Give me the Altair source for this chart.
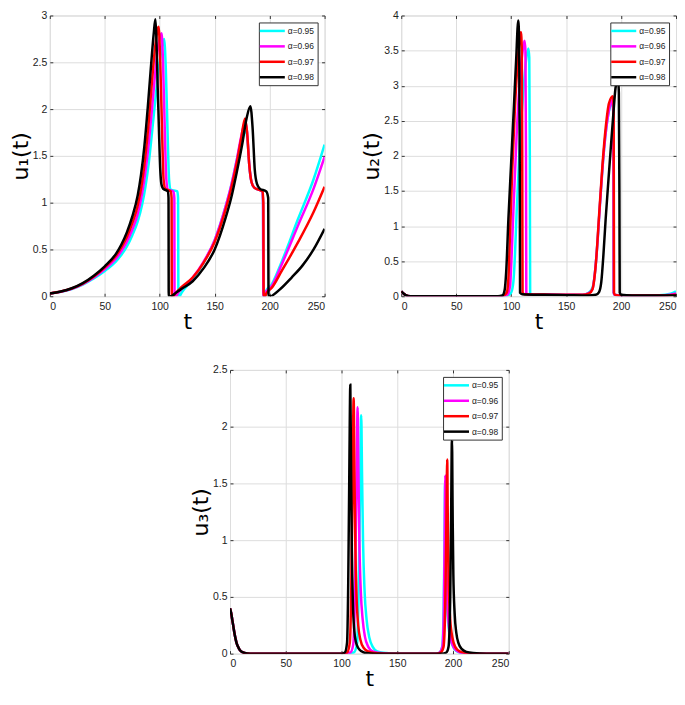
import altair as alt
import pandas as pd

SERIES = ["α=0.95", "α=0.96", "α=0.97", "α=0.98"]
COLORS = ["#00FFFF", "#FF00FF", "#FF0000", "#000000"]
X_TICKS = [0, 50, 100, 150, 200, 250]

# ---------- u1(t) ----------
U1_T_C = [0, 10, 20, 30, 40, 50, 60, 65, 70, 75, 80, 84, 87, 90, 93, 96, 99, 102, 104, 105.5, 107.5, 108.5, 110, 116, 116.7, 117, 118, 120, 130, 140, 150, 160, 165, 170, 174, 178.5, 180, 181.5, 183.5, 186, 193.3, 194, 194.3, 195.5, 196.5, 202, 211, 226, 240, 250]
U1_V_C = [0.03, 0.047, 0.077, 0.125, 0.19, 0.27, 0.37, 0.44, 0.53, 0.65, 0.8, 0.98, 1.17, 1.42, 1.75, 2.1, 2.42, 2.66, 2.75, 2.45, 1.6, 1.25, 1.14, 1.12, 1.05, 0.0, 0.0, 0.04, 0.18, 0.36, 0.6, 0.96, 1.18, 1.45, 1.66, 1.76, 1.65, 1.4, 1.22, 1.16, 1.12, 1.0, 0.0, 0.0, 0.05, 0.13, 0.37, 0.83, 1.25, 1.62]
U1_T_M = [0, 10, 20, 30, 40, 50, 60, 65, 70, 75, 80, 84, 87, 90, 93, 96, 99, 101.7, 103, 105, 106, 107.5, 112.5, 113.3, 113.5, 114.5, 117, 120, 130, 140, 150, 160, 165, 170, 174, 178, 179.5, 181.5, 183.5, 186, 193.3, 194, 194.3, 195.5, 196.5, 202, 211, 226, 240, 250]
U1_V_M = [0.03, 0.048, 0.08, 0.13, 0.2, 0.29, 0.4, 0.48, 0.58, 0.71, 0.88, 1.1, 1.33, 1.63, 2.0, 2.4, 2.7, 2.81, 2.5, 1.6, 1.25, 1.14, 1.12, 1.05, 0.0, 0.0, 0.04, 0.08, 0.2, 0.37, 0.6, 0.96, 1.18, 1.45, 1.7, 1.86, 1.75, 1.4, 1.22, 1.16, 1.12, 1.0, 0.0, 0.0, 0.04, 0.11, 0.34, 0.76, 1.15, 1.49]
U1_T_R = [0, 10, 20, 30, 40, 50, 60, 65, 70, 75, 80, 84, 87, 90, 93, 96, 99, 100.5, 102.5, 103.5, 105, 110, 110.8, 111, 112, 115, 120, 130, 140, 150, 160, 165, 170, 174, 177.7, 179.5, 181.5, 183.5, 186, 193.5, 194.3, 194.6, 196, 197, 202, 211, 226, 240, 250]
U1_V_R = [0.03, 0.05, 0.083, 0.135, 0.21, 0.31, 0.43, 0.52, 0.63, 0.78, 0.97, 1.22, 1.5, 1.86, 2.3, 2.68, 2.88, 2.5, 1.6, 1.25, 1.15, 1.12, 1.05, 0.0, 0.0, 0.04, 0.1, 0.2, 0.36, 0.58, 0.93, 1.15, 1.42, 1.68, 1.9, 1.75, 1.4, 1.22, 1.16, 1.12, 1.0, 0.0, 0.0, 0.03, 0.09, 0.27, 0.58, 0.9, 1.17]
U1_T_K = [0, 10, 20, 30, 40, 50, 60, 65, 70, 75, 80, 83, 86, 89, 92, 94.5, 96, 98.5, 100.5, 101.5, 103, 107.5, 108.0, 108.2, 110, 115, 120, 130, 140, 150, 160, 165, 170, 175, 179, 182.5, 184.5, 186.5, 188.5, 191, 197, 198.7, 199, 201, 205, 210, 220, 230, 240, 250]
U1_V_K = [0.03, 0.05, 0.085, 0.14, 0.22, 0.32, 0.45, 0.55, 0.68, 0.85, 1.08, 1.3, 1.6, 2.0, 2.45, 2.8, 2.96, 2.1, 1.35, 1.2, 1.15, 1.12, 1.05, 0.0, 0.0, 0.04, 0.08, 0.16, 0.3, 0.5, 0.84, 1.05, 1.32, 1.62, 1.9, 2.03, 1.8, 1.35, 1.2, 1.15, 1.12, 1.05, 0.0, 0.0, 0.03, 0.08, 0.2, 0.33, 0.5, 0.72]

# ---------- u2(t) ----------
U2_T_C = [0, 2, 4, 6, 10, 90, 95, 98, 100, 102, 103.5, 105, 108, 111, 113.5, 115.7, 116.5, 117, 117.3, 118, 130, 150, 165, 170, 174, 176, 178, 181, 184, 187, 190, 192, 193, 193.3, 194, 200, 220, 235, 245, 250]
U2_V_C = [0.07, 0.04, 0.015, 0.005, 0.0, 0.0, 0.005, 0.02, 0.05, 0.2, 0.6, 1.2, 2.2, 2.9, 3.35, 3.53, 3.4, 2.0, 0.05, 0.03, 0.025, 0.02, 0.02, 0.045, 0.12, 0.3, 0.65, 1.35, 2.0, 2.45, 2.7, 2.76, 2.6, 0.05, 0.02, 0.01, 0.01, 0.015, 0.035, 0.07]
U2_T_M = [0, 2, 4, 6, 10, 90, 94, 97, 99, 100.5, 102, 105, 108, 110.5, 112.2, 113, 113.5, 113.8, 115, 130, 150, 165, 170, 174, 176, 178, 181, 184, 187, 190, 192, 193, 193.3, 194, 200, 220, 240, 250]
U2_V_M = [0.07, 0.04, 0.015, 0.005, 0.0, 0.0, 0.005, 0.03, 0.15, 0.6, 1.2, 2.3, 3.1, 3.5, 3.64, 3.5, 2.0, 0.05, 0.03, 0.025, 0.02, 0.02, 0.04, 0.1, 0.3, 0.65, 1.35, 2.0, 2.45, 2.72, 2.8, 2.6, 0.05, 0.02, 0.01, 0.01, 0.015, 0.04]
U2_T_R = [0, 2, 4, 6, 10, 90, 93, 96, 97.5, 99, 101, 103.5, 106, 108, 108.9, 109.7, 110.1, 110.4, 112, 130, 150, 165, 171, 174, 177, 180, 183, 186, 189, 192.6, 193.3, 193.6, 194.5, 200, 220, 240, 250]
U2_V_R = [0.07, 0.04, 0.015, 0.005, 0.0, 0.0, 0.01, 0.05, 0.25, 0.9, 1.8, 2.7, 3.35, 3.7, 3.76, 3.5, 2.0, 0.05, 0.03, 0.025, 0.02, 0.02, 0.04, 0.1, 0.45, 1.15, 1.85, 2.4, 2.75, 2.85, 2.7, 0.05, 0.02, 0.01, 0.01, 0.012, 0.02]
U2_T_K = [0, 2, 4, 6, 10, 88, 92, 94, 95.5, 97.5, 100, 102.5, 104.5, 106.5, 107.3, 107.8, 108.1, 110, 130, 150, 170, 177, 180, 182, 184, 186, 188.5, 190.5, 193, 195, 197.3, 198, 198.5, 198.8, 200, 210, 250]
U2_V_K = [0.07, 0.04, 0.015, 0.005, 0.0, 0.0, 0.01, 0.08, 0.35, 1.1, 1.9, 2.7, 3.35, 3.93, 3.6, 2.0, 0.05, 0.03, 0.02, 0.015, 0.01, 0.02, 0.06, 0.2, 0.6, 1.1, 1.65, 2.08, 2.6, 2.97, 3.1, 2.9, 1.5, 0.05, 0.02, 0.01, 0.01]

# ---------- u3(t) ----------
U3_T_C = [0, 1, 2, 3, 4, 5, 6, 8, 10, 13, 18, 100, 111, 113.8, 115.3, 116.6, 117.7, 118.4, 119.3, 120.7, 122.5, 125, 128, 132, 140, 150, 185, 188, 190.3, 191.6, 192.3, 192.9, 193.5, 194.4, 195.8, 198, 201, 205, 212, 250]
U3_V_C = [0.4, 0.36, 0.3, 0.24, 0.18, 0.13, 0.09, 0.045, 0.02, 0.007, 0.0, 0.0, 0.01, 0.08, 0.5, 1.4, 2.1, 1.6, 1.0, 0.55, 0.3, 0.14, 0.06, 0.02, 0.005, 0.0, 0.0, 0.01, 0.06, 0.4, 0.9, 1.5, 0.95, 0.52, 0.26, 0.12, 0.045, 0.014, 0.0, 0.0]
U3_T_M = [0, 1, 2, 3, 4, 5, 6, 8, 10, 13, 18, 100, 108, 110.5, 112, 113.3, 114.5, 115.2, 116, 117.3, 119, 121, 124, 128, 135, 145, 185, 188, 190.5, 191.8, 192.5, 193.1, 193.7, 194.6, 196, 198, 201, 205, 212, 250]
U3_V_M = [0.4, 0.36, 0.3, 0.24, 0.18, 0.13, 0.09, 0.045, 0.02, 0.007, 0.0, 0.0, 0.01, 0.08, 0.5, 1.4, 2.17, 1.6, 1.0, 0.55, 0.3, 0.15, 0.06, 0.02, 0.005, 0.0, 0.0, 0.01, 0.06, 0.4, 1.0, 1.57, 1.0, 0.55, 0.28, 0.13, 0.05, 0.015, 0.0, 0.0]
U3_T_R = [0, 1, 2, 3, 4, 5, 6, 8, 10, 13, 18, 100, 105, 107.5, 108.8, 110, 110.9, 111.6, 112.4, 113.5, 115, 117, 120, 124, 130, 140, 185, 189, 191.5, 193, 194, 194.8, 195.4, 196.2, 197.5, 199.5, 202, 206, 212, 220, 250]
U3_V_R = [0.4, 0.36, 0.3, 0.24, 0.18, 0.13, 0.09, 0.045, 0.02, 0.007, 0.0, 0.0, 0.01, 0.1, 0.6, 1.6, 2.25, 1.6, 0.95, 0.5, 0.25, 0.12, 0.05, 0.02, 0.005, 0.0, 0.0, 0.01, 0.06, 0.4, 1.1, 1.71, 1.1, 0.6, 0.3, 0.14, 0.06, 0.02, 0.005, 0.0, 0.0]
U3_T_K = [0, 1, 2, 3, 4, 5, 6, 8, 10, 13, 18, 100, 103, 105, 106, 107, 107.9, 108.6, 109.3, 110.2, 111.5, 113, 115, 118, 122, 130, 190, 194, 196, 197.5, 198.3, 199, 199.6, 200.3, 201.5, 203, 205, 208, 212, 218, 230, 250]
U3_V_K = [0.4, 0.36, 0.3, 0.24, 0.18, 0.13, 0.09, 0.045, 0.02, 0.007, 0.0, 0.0, 0.01, 0.1, 0.6, 1.6, 2.37, 1.6, 0.9, 0.45, 0.2, 0.1, 0.05, 0.02, 0.005, 0.0, 0.0, 0.01, 0.06, 0.5, 1.2, 1.88, 1.3, 0.7, 0.35, 0.18, 0.09, 0.04, 0.015, 0.005, 0.0, 0.0]

FONT = "Liberation Sans"
TITLE_FONT = "DejaVu Sans"


def make_df(pairs):
    rows = []
    for name, (ts, vs) in zip(SERIES, pairs):
        for i, (t, v) in enumerate(zip(ts, vs)):
            rows.append({"series": name, "t": t, "u": v, "i": i})
    return pd.DataFrame(rows)


def panel(df, ytitle, ymax, w, h):
    yticks = [k * 0.5 for k in range(int(ymax * 2) + 1)]
    xs = alt.Scale(domain=[0, 250], nice=False, zero=False)
    ys = alt.Scale(domain=[0, ymax], nice=False, zero=False)
    lines = alt.Chart(df).mark_line(strokeWidth=2.5, clip=True, interpolate="monotone").encode(
        x=alt.X("t:Q", scale=xs, axis=alt.Axis(
            values=X_TICKS, format="~f", grid=True, ticks=False, tickSize=0,
            domain=False, labelPadding=5, labelFontSize=10.5, labelFont=FONT,
            labelColor="#222", title="t", titleFontSize=22, titleFont=TITLE_FONT,
            titleFontWeight="normal", titlePadding=0, titleColor="#000",
            minExtent=0)),
        y=alt.Y("u:Q", scale=ys, axis=alt.Axis(
            values=yticks, format="~f", grid=True, ticks=False, tickSize=0,
            domain=False, labelPadding=3, labelFontSize=10.5, labelFont=FONT,
            labelColor="#222", title=ytitle, titleFontSize=22, titleFont=TITLE_FONT,
            titleFontWeight="normal", titlePadding=0, titleColor="#000",
            minExtent=0)),
        color=alt.Color("series:N", scale=alt.Scale(domain=SERIES, range=COLORS),
                        legend=alt.Legend(
                            title=None, orient="top-right", offset=7,
                            symbolType="M-3,0L3,0", symbolSize=70, symbolStrokeWidth=2.5,
                            symbolOffset=5, labelOffset=10,
                            labelFontSize=8.5, labelFont=FONT, labelColor="#222",
                            strokeColor="#333", fillColor="white", padding=3,
                            rowPadding=4.5)),
        order="i:Q",
    )
    tick_axis = dict(labels=False, grid=False, domain=False, ticks=True, tickSize=3,
                     offset=-3, title=None, minExtent=0, maxExtent=0,
                     tickColor="#333")
    t1 = alt.Chart(df).mark_line(opacity=0).encode(
        x=alt.X("t:Q", scale=xs, axis=alt.Axis(orient="top", values=X_TICKS, **tick_axis)),
        y=alt.Y("u:Q", scale=ys, axis=alt.Axis(orient="right", values=yticks, **tick_axis)),
        detail="series:N", order="i:Q",
    )
    t2 = alt.Chart(df).mark_line(opacity=0).encode(
        x=alt.X("t:Q", scale=xs, axis=alt.Axis(orient="bottom", values=X_TICKS, **tick_axis)),
        y=alt.Y("u:Q", scale=ys, axis=alt.Axis(orient="left", values=yticks, **tick_axis)),
        detail="series:N", order="i:Q",
    )
    return alt.layer(lines, t1, t2).resolve_axis(x="independent", y="independent").properties(
        width=w, height=h)


df1 = make_df([(U1_T_C, U1_V_C), (U1_T_M, U1_V_M), (U1_T_R, U1_V_R), (U1_T_K, U1_V_K)])
df2 = make_df([(U2_T_C, U2_V_C), (U2_T_M, U2_V_M), (U2_T_R, U2_V_R), (U2_T_K, U2_V_K)])
df3 = make_df([(U3_T_C, U3_V_C), (U3_T_M, U3_V_M), (U3_T_R, U3_V_R), (U3_T_K, U3_V_K)])

p1 = panel(df1, "u₁(t)", 3, 276, 282)
p2 = panel(df2, "u₂(t)", 4, 276, 282)
p3 = panel(df3, "u₃(t)", 2.5, 280, 285)

spacer = alt.Chart(pd.DataFrame({"a": [0]})).mark_point(opacity=0).encode(
    x=alt.X("a:Q", axis=None), y=alt.Y("a:Q", axis=None)
).properties(width=138, height=1, view=alt.ViewBackground(stroke="transparent"))

top = alt.hconcat(p1, p2, spacing=34).resolve_scale(color="independent").resolve_legend(color="independent")
bottom = alt.hconcat(spacer, p3, spacing=0).resolve_scale(color="independent").resolve_legend(color="independent")
chart = alt.vconcat(top, bottom, spacing=31).resolve_scale(
    color="independent").resolve_legend(color="independent").properties(
    padding={"left": 0, "top": 0, "right": 0, "bottom": 0}
).configure_view(stroke="#444", strokeWidth=1).configure_axis(
    gridColor="#e3e3e3", gridWidth=1
).configure(background="white")

chart.save("out.html", embed_options={"renderer": "svg", "actions": False})
